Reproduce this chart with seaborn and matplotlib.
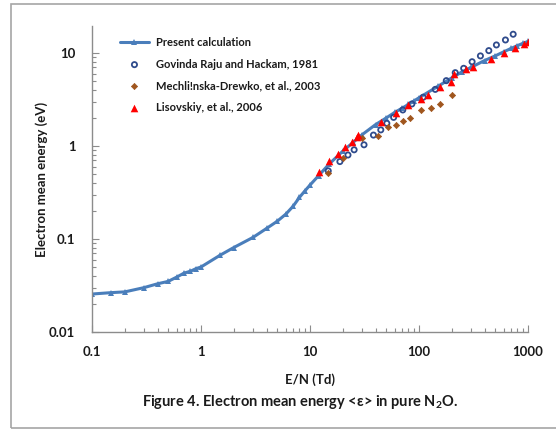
import matplotlib
matplotlib.use("Agg")
import matplotlib.pyplot as plt
import seaborn as sns
import pandas as pd
from matplotlib.patches import Rectangle
from matplotlib.ticker import LogLocator, FixedLocator, NullFormatter

# ---- data ----
calc_en = [0.1, 0.15, 0.2, 0.3, 0.4, 0.5, 0.6, 0.7, 0.8, 0.9, 1, 1.5, 2, 3, 4, 5, 6, 7, 8, 9,
           10, 12, 15, 20, 25, 30, 40, 50, 60, 70, 80, 90, 100, 150, 200, 250, 300, 400, 500,
           600, 700, 800, 900, 1000]
calc_e = [0.0256, 0.0265, 0.027, 0.030, 0.033, 0.035, 0.039, 0.043, 0.045, 0.048, 0.050, 0.067,
          0.081, 0.104, 0.130, 0.155, 0.185, 0.225, 0.28, 0.33, 0.38, 0.48, 0.64, 0.88, 1.10,
          1.32, 1.70, 2.00, 2.30, 2.55, 2.80, 3.05, 3.30, 4.40, 5.40, 6.30, 7.00, 8.30, 9.30,
          10.3, 11.2, 12.0, 12.7, 13.3]

gov_en = [14.7, 18.8, 22.3, 25.4, 31.3, 38.2, 44.6, 50.7, 58.5, 71, 86, 109, 141, 178, 215,
          257, 307, 366, 437, 513, 621, 731]
gov_e = [0.54, 0.68, 0.80, 0.91, 1.03, 1.31, 1.49, 1.75, 2.03, 2.44, 2.83, 3.34, 4.06, 5.04,
         6.14, 6.84, 8.05, 9.3, 10.6, 12.2, 13.8, 15.9]

mech_en = [14.7, 20.2, 29.8, 42.5, 52.5, 61.5, 71.9, 83, 104, 129, 155, 201]
mech_e = [0.51, 0.75, 1.21, 1.28, 1.59, 1.68, 1.87, 1.99, 2.44, 2.54, 2.83, 3.53]

lis_en = [12.2, 15.0, 18.2, 20.9, 24.1, 27.0, 27.8, 44.6, 61.5, 79, 104, 121, 157, 196, 211,
          272, 313, 458, 600, 767, 916, 997]
lis_e = [0.525, 0.695, 0.82, 0.97, 1.11, 1.25, 1.31, 1.82, 2.24, 2.76, 3.18, 3.53, 4.28, 4.9,
         5.94, 6.68, 7.13, 8.55, 9.93, 11.4, 12.5, 13.2]

labels = ["Present calculation", "Govinda Raju and Hackam, 1981",
          "Mechli!nska-Drewko, et al., 2003", "Lisovskiy, et al., 2006"]
x_ticks = [0.1, 1, 10, 100, 1000]
x_tick_labels = ["0.1", "1", "10", "100", "1000"]
y_ticks = [0.01, 0.1, 1, 10]
y_tick_labels = ["0.01", "0.1", "1", "10"]

sns.set_style("white")
plt.rcParams['font.family'] = ['Lato', 'DejaVu Sans']
plt.rcParams['font.weight'] = 'bold'

W, H = 556, 430
fig = plt.figure(figsize=(W / 100, H / 100), dpi=100)
ax = fig.add_axes([92 / W, 1 - 332 / H, (528 - 92) / W, (332 - 26) / H])

df_calc = pd.DataFrame({"x": calc_en, "y": calc_e})
df_gov = pd.DataFrame({"x": gov_en, "y": gov_e})
df_mech = pd.DataFrame({"x": mech_en, "y": mech_e})
df_lis = pd.DataFrame({"x": lis_en, "y": lis_e})

blue = "#4A7EBB"
txt_c = "#1A1A1A"
sns.lineplot(data=df_calc, x="x", y="y", ax=ax, color=blue, lw=2.2, marker="^",
             markersize=4.5, markeredgewidth=0, label=labels[0], zorder=2)
sns.scatterplot(data=df_gov, x="x", y="y", ax=ax, marker="o", s=14, facecolor="none",
                edgecolor="#2F4B8C", linewidth=1.3, label=labels[1], zorder=3)
sns.scatterplot(data=df_mech, x="x", y="y", ax=ax, marker="D", s=10, color="#A0561E",
                edgecolor="#A0561E", linewidth=0.5, label=labels[2], zorder=3)
sns.scatterplot(data=df_lis, x="x", y="y", ax=ax, marker="^", s=30, color="#FF0000",
                edgecolor="#FF0000", linewidth=0, label=labels[3], zorder=4)

ax.set_xscale("log")
ax.set_yscale("log")
ax.set_xlim(0.1, 1000)
ax.set_ylim(0.01, 19.5)

ax.xaxis.set_major_locator(FixedLocator(x_ticks))
ax.set_xticklabels(x_tick_labels)
ax.yaxis.set_major_locator(FixedLocator(y_ticks))
ax.set_yticklabels(y_tick_labels)
ax.xaxis.set_minor_locator(LogLocator(base=10, subs=range(2, 10), numticks=20))
ax.yaxis.set_minor_locator(LogLocator(base=10, subs=range(2, 10), numticks=20))
ax.xaxis.set_minor_formatter(NullFormatter())
ax.yaxis.set_minor_formatter(NullFormatter())

spine_c = "#8C8C8C"
for s in ["top", "right"]:
    ax.spines[s].set_visible(False)
for s in ["left", "bottom"]:
    ax.spines[s].set_color(spine_c)
    ax.spines[s].set_linewidth(1.0)

ax.tick_params(which="major", direction="in", length=5, width=0.8, color=spine_c,
               labelsize=9.5, pad=10, left=True, bottom=True)
ax.tick_params(which="minor", direction="in", length=3, width=0.8, color=spine_c,
               left=True, bottom=True)
ax.tick_params(axis="y", which="major", pad=12)
for lab in ax.get_xticklabels() + ax.get_yticklabels():
    lab.set_fontweight("bold")
    lab.set_color(txt_c)

ax.set_xlabel("E/N (Td)", fontsize=9.5, fontweight="bold", color=txt_c)
ax.set_ylabel("Electron mean energy (eV)", fontsize=9.5, fontweight="bold", color=txt_c)
ax.xaxis.set_label_coords((310 - 92) / (528 - 92), -(380 - 332) / (332 - 26))
ax.xaxis.label.set_va("center")
ax.yaxis.set_label_coords(-(92 - 42) / (528 - 92), 0.5)
ax.yaxis.label.set_va("center")

leg = ax.legend(loc="upper left", bbox_to_anchor=(120 / W, 1 - 37 / H),
                bbox_transform=fig.transFigure, frameon=False, fontsize=8,
                handlelength=2.6, handletextpad=0.6, labelspacing=0.95, borderaxespad=0,
                borderpad=0)
for t in leg.get_texts():
    t.set_fontweight("bold")
    t.set_color(txt_c)

fig.text(300 / W, 1 - 402 / H, "Figure 4. Electron mean energy <ε> in pure N$_\\mathregular{2}$O.",
         ha="center", va="center", fontsize=10.5, fontweight="bold", color=txt_c)

fig.patches.append(Rectangle((11 / W, 1 - 428 / H), (W + 10) / W, (428 - 4) / H,
                             transform=fig.transFigure, fill=False, edgecolor="#A6A6A6",
                             linewidth=1.2, clip_on=False))

fig.savefig("out.png", dpi=100)
